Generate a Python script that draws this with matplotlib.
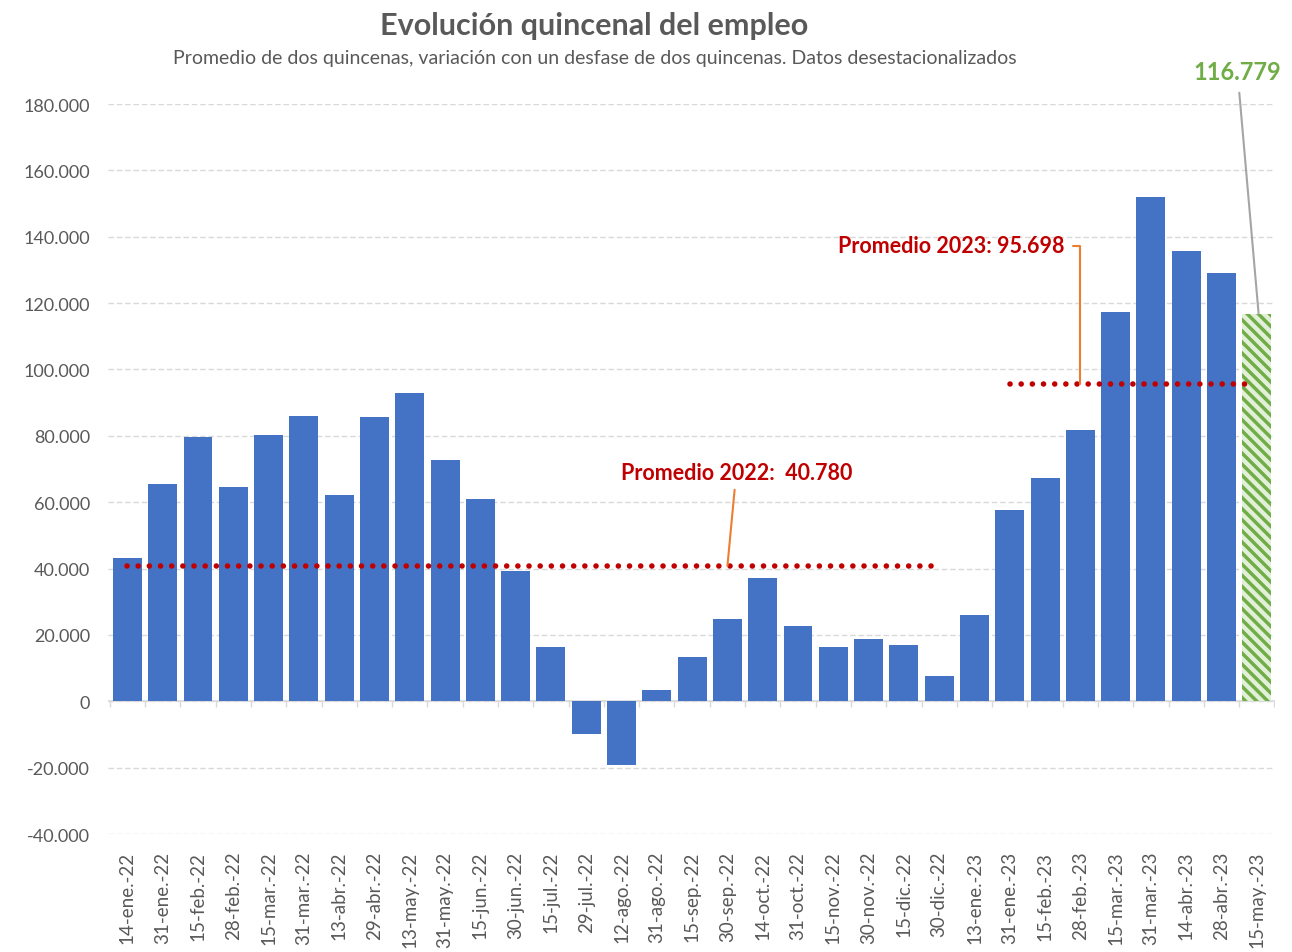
import matplotlib
matplotlib.use("Agg")
import matplotlib.pyplot as plt
from matplotlib.ticker import FuncFormatter

plt.rcParams['font.family'] = ['Lato', 'DejaVu Sans']
plt.rcParams['hatch.linewidth'] = 2.5

labels = ["14-ene.-22", "31-ene.-22", "15-feb.-22", "28-feb.-22", "15-mar.-22", "31-mar.-22",
          "13-abr.-22", "29-abr.-22", "13-may.-22", "31-may.-22", "15-jun.-22", "30-jun.-22",
          "15-jul.-22", "29-jul.-22", "12-ago.-22", "31-ago.-22", "15-sep.-22", "30-sep.-22",
          "14-oct.-22", "31-oct.-22", "15-nov.-22", "30-nov.-22", "15-dic.-22", "30-dic.-22",
          "13-ene.-23", "31-ene.-23", "15-feb.-23", "28-feb.-23", "15-mar.-23", "31-mar.-23",
          "14-abr.-23", "28-abr.-23", "15-may.-23"]
values = [43100, 65400, 79800, 64500, 80400, 86100,
          62300, 85800, 92800, 72600, 61100, 39200,
          16300, -9900, -19300, 3300, 13300, 24700,
          37300, 22600, 16300, 18700, 16900, 7500,
          25900, 57500, 67200, 81900, 117200, 152100,
          135800, 129200, 116779]
avg_2022 = 40780
avg_2023 = 95698
avg_2022_span = (0, 23)
avg_2023_span = (25, 31.75)

BLUE = "#4472C4"
GREEN = "#70AD47"
RED = "#C00000"
ORANGE = "#ED7D31"
GREY_TXT = "#595959"

fig = plt.figure(figsize=(12.92, 9.53), dpi=100)
ax = fig.add_axes([0.0836, 0.1238, 0.9034, 0.766])

n = len(values)
xs = list(range(n))
width = 0.82
ax.bar(xs[:-1], values[:-1], width=width, color=BLUE, zorder=2)
ax.bar(xs[-1], values[-1], width=width, color="#E2F0D9", edgecolor=GREEN,
       hatch="\\\\\\", linewidth=0, zorder=2)

ax.set_xlim(-0.55, n - 0.48)
ax.set_ylim(-40000, 180000)
ax.set_yticks(range(-40000, 180001, 20000))
ax.yaxis.set_major_formatter(FuncFormatter(lambda v, p: f"{int(v):,}".replace(",", ".")))
ax.grid(axis='y', color="#D9D9D9", linestyle=(0, (4, 2)), linewidth=1, zorder=0)
ax.set_axisbelow(True)
for s in ax.spines.values():
    s.set_visible(False)
ax.tick_params(axis='y', length=0, pad=13, labelsize=13, labelcolor=GREY_TXT)
ax.set_xticks(xs)
ax.set_xticklabels(labels, rotation=90, fontsize=13.5, color=GREY_TXT)
ax.tick_params(axis='x', length=0, pad=12)

# zero axis line with boundary ticks
ax.axhline(0, color="#D9D9D9", linewidth=1.2, zorder=1)
bounds = [i - 0.5 for i in range(n + 1)]
ax.vlines(bounds, -1800, 0, color="#D9D9D9", linewidth=1.0, zorder=1)

# average dotted lines
dot = (0, (0.01, 2.0))
ax.plot(avg_2022_span, [avg_2022, avg_2022], color=RED, lw=4, linestyle=dot,
        dash_capstyle='round', zorder=3)
ax.plot(avg_2023_span, [avg_2023, avg_2023], color=RED, lw=4, linestyle=dot,
        dash_capstyle='round', zorder=3)

ax.annotate("Promedio 2022:  40.780", xy=(17.0, avg_2022), xytext=(17.25, 69000),
            ha='center', va='center', color=RED, fontsize=15.5, fontweight='bold',
            arrowprops=dict(arrowstyle='-', color=ORANGE, lw=1.5, shrinkA=3, shrinkB=0),
            zorder=4)
ax.annotate("Promedio 2023: 95.698", xy=(27.0, avg_2023), xytext=(26.55, 137300),
            ha='right', va='center', color=RED, fontsize=15.5, fontweight='bold',
            arrowprops=dict(arrowstyle='-', color=ORANGE, lw=1.5, shrinkA=4, shrinkB=0,
                            connectionstyle='angle,angleA=0,angleB=90,rad=0'),
            zorder=4)
ax.annotate("116.779", xy=(32.05, values[-1]), xytext=(31.45, 189800),
            ha='center', va='center', color=GREEN, fontsize=17, fontweight='bold',
            arrowprops=dict(arrowstyle='-', color="#A5A5A5", lw=1.5, shrinkA=5, shrinkB=0),
            annotation_clip=False, zorder=4)

fig.text(0.46, 0.973, "Evolución quincenal del empleo", ha='center', va='center',
         fontsize=22, fontweight='bold', color=GREY_TXT)
fig.text(0.46, 0.939, "Promedio de dos quincenas, variación con un desfase de dos quincenas. Datos desestacionalizados",
         ha='center', va='center', fontsize=14, color=GREY_TXT)

fig.savefig("out.png", dpi=100, facecolor='white')
